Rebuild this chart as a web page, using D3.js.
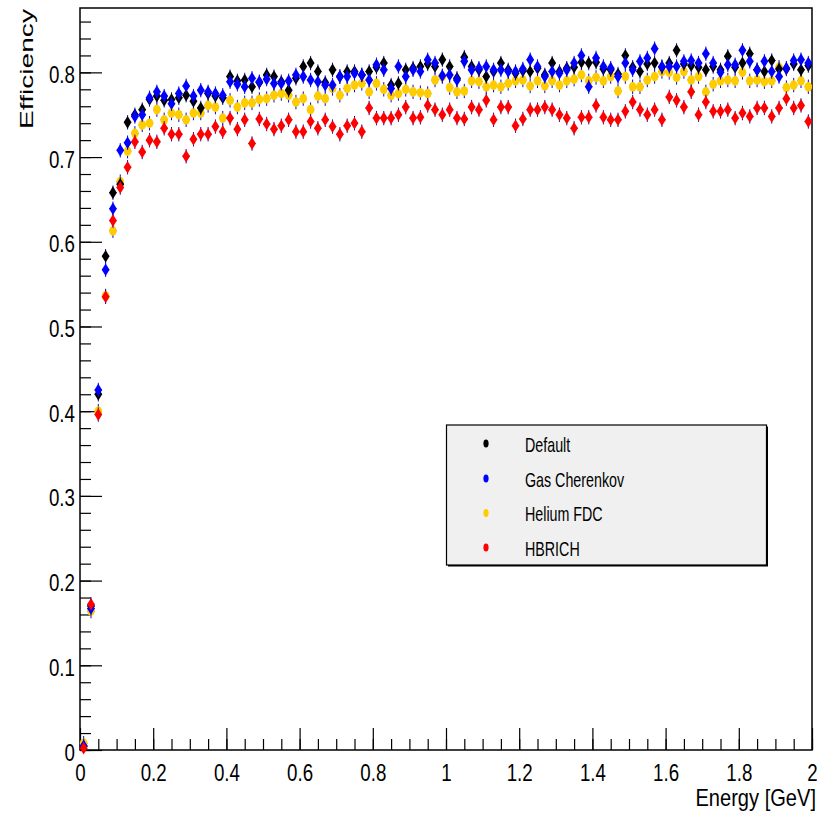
<!DOCTYPE html>
<html>
<head>
<meta charset="utf-8">
<script src="https://cdn.jsdelivr.net/npm/d3@7"></script>
<style>
  body { margin: 0; background: #fff; }
  svg { display: block; background: #fff; }
</style>
</head>
<body>
<svg id="effSVG" width="826" height="819"></svg>
<script>
// binning dell'istogramma
const nBins = 100;
const energyRange = [0, 2];
const effRange = [0, 0.876];

const xMajorTicks = [0, 0.2, 0.4, 0.6, 0.8, 1, 1.2, 1.4, 1.6, 1.8, 2];
const yMajorTicks = [0, 0.1, 0.2, 0.3, 0.4, 0.5, 0.6, 0.7, 0.8];

const seriesNames = ["Default", "Gas Cherenkov", "Helium FDC", "HBRICH"];
const seriesColors = ["#000000", "#0000ff", "#ffcc00", "#ff0000"];
const seriesMarkers = ["diamond", "diamond", "circle", "diamond"];

const effDefault = [
  0.004, 0.170, 0.420, 0.583, 0.658, 0.668, 0.741, 0.750, 0.756, 0.768,
  0.772, 0.767, 0.768, 0.770, 0.773, 0.766, 0.758, 0.775, 0.772, 0.770,
  0.795, 0.790, 0.791, 0.783, 0.788, 0.797, 0.795, 0.789, 0.779, 0.793,
  0.807, 0.811, 0.801, 0.788, 0.803, 0.795, 0.801, 0.801, 0.797, 0.801,
  0.806, 0.811, 0.785, 0.787, 0.803, 0.805, 0.807, 0.810, 0.807, 0.815,
  0.807, 0.793, 0.818, 0.807, 0.803, 0.795, 0.801, 0.811, 0.803, 0.799,
  0.802, 0.801, 0.805, 0.797, 0.811, 0.801, 0.805, 0.806, 0.812, 0.811,
  0.812, 0.804, 0.803, 0.798, 0.820, 0.806, 0.801, 0.810, 0.811, 0.806,
  0.811, 0.826, 0.810, 0.808, 0.806, 0.803, 0.807, 0.803, 0.819, 0.806,
  0.811, 0.822, 0.803, 0.801, 0.814, 0.804, 0.804, 0.810, 0.803, 0.808
];

const effGas = [
  0.005, 0.167, 0.425, 0.567, 0.639, 0.708, 0.717, 0.748, 0.750, 0.770,
  0.777, 0.772, 0.763, 0.775, 0.784, 0.772, 0.779, 0.777, 0.775, 0.773,
  0.789, 0.786, 0.783, 0.793, 0.789, 0.792, 0.787, 0.787, 0.790, 0.797,
  0.795, 0.791, 0.789, 0.785, 0.785, 0.795, 0.795, 0.799, 0.797, 0.791,
  0.809, 0.803, 0.781, 0.807, 0.795, 0.803, 0.801, 0.815, 0.811, 0.796,
  0.797, 0.791, 0.813, 0.803, 0.805, 0.807, 0.803, 0.803, 0.801, 0.801,
  0.804, 0.815, 0.807, 0.795, 0.801, 0.799, 0.803, 0.811, 0.820, 0.783,
  0.817, 0.807, 0.805, 0.795, 0.811, 0.803, 0.813, 0.817, 0.828, 0.807,
  0.807, 0.807, 0.813, 0.814, 0.811, 0.822, 0.811, 0.800, 0.809, 0.809,
  0.826, 0.813, 0.803, 0.813, 0.801, 0.795, 0.805, 0.814, 0.815, 0.811
];

const effHelium = [
  0.008, 0.164, 0.400, 0.536, 0.613, 0.671, 0.707, 0.728, 0.738, 0.740,
  0.756, 0.744, 0.752, 0.750, 0.744, 0.752, 0.752, 0.761, 0.759, 0.746,
  0.767, 0.759, 0.764, 0.764, 0.768, 0.769, 0.773, 0.775, 0.773, 0.765,
  0.769, 0.756, 0.772, 0.769, 0.781, 0.773, 0.781, 0.785, 0.787, 0.777,
  0.787, 0.780, 0.773, 0.775, 0.780, 0.777, 0.776, 0.775, 0.791, 0.795,
  0.782, 0.777, 0.778, 0.790, 0.789, 0.783, 0.785, 0.783, 0.787, 0.790,
  0.791, 0.784, 0.790, 0.784, 0.790, 0.785, 0.790, 0.792, 0.797, 0.790,
  0.794, 0.790, 0.795, 0.778, 0.795, 0.783, 0.783, 0.791, 0.795, 0.801,
  0.800, 0.794, 0.801, 0.791, 0.795, 0.777, 0.786, 0.790, 0.791, 0.790,
  0.800, 0.790, 0.791, 0.789, 0.790, 0.806, 0.782, 0.785, 0.790, 0.783
];

const effHBRICH = [
  0.002, 0.172, 0.396, 0.535, 0.625, 0.664, 0.688, 0.718, 0.706, 0.720,
  0.718, 0.734, 0.727, 0.727, 0.701, 0.721, 0.727, 0.727, 0.736, 0.730,
  0.746, 0.733, 0.744, 0.716, 0.745, 0.739, 0.733, 0.737, 0.744, 0.730,
  0.730, 0.742, 0.734, 0.744, 0.736, 0.727, 0.737, 0.740, 0.730, 0.758,
  0.746, 0.746, 0.746, 0.750, 0.759, 0.746, 0.747, 0.761, 0.756, 0.750,
  0.756, 0.746, 0.745, 0.759, 0.756, 0.767, 0.744, 0.759, 0.759, 0.737,
  0.745, 0.756, 0.756, 0.759, 0.756, 0.750, 0.746, 0.734, 0.747, 0.747,
  0.761, 0.747, 0.744, 0.744, 0.754, 0.765, 0.756, 0.750, 0.756, 0.744,
  0.771, 0.767, 0.759, 0.777, 0.750, 0.765, 0.754, 0.754, 0.756, 0.746,
  0.752, 0.748, 0.758, 0.758, 0.748, 0.758, 0.769, 0.758, 0.761, 0.742
];

// errore statistico (circa costante)
const effError = 0.0085;

const FONT = '"Liberation Sans", Arial, Helvetica, sans-serif';
const frame = { left: 80, right: 812, top: 8, bottom: 750 };

const svg = d3.select("#effSVG");

const x = d3.scaleLinear().domain(energyRange).range([frame.left, frame.right]);
const y = d3.scaleLinear().domain(effRange).range([frame.bottom, frame.top]);

const binWidth = (energyRange[1] - energyRange[0]) / nBins;
const binCenters = d3.range(nBins).map(i => energyRange[0] + binWidth * (i + 0.5));

function fmtTick(d) {
  return String(+d.toFixed(1));
}

/*
* Disegna gli assi con tacche principali e secondarie (verso l'interno, stile ROOT)
*/
function drawAxes() {
  const xMinor = d3.range(0, 2.0001, 0.05);
  const yMinor = d3.range(0, 0.8601, 0.02);

  // tacche secondarie
  svg.append("g")
    .attr("transform", `translate(0,${frame.bottom})`)
    .call(d3.axisBottom(x).tickValues(xMinor).tickSize(-11).tickSizeOuter(0).tickFormat(""))
    .call(g => g.select(".domain").remove());

  svg.append("g")
    .attr("transform", `translate(${frame.left},0)`)
    .call(d3.axisLeft(y).tickValues(yMinor).tickSize(-11).tickSizeOuter(0).tickFormat(""))
    .call(g => g.select(".domain").remove());

  // tacche principali con etichette
  const gx = svg.append("g")
    .attr("transform", `translate(0,${frame.bottom})`)
    .call(d3.axisBottom(x).tickValues(xMajorTicks).tickSize(-22).tickSizeOuter(0)
      .tickPadding(14).tickFormat(fmtTick));
  gx.select(".domain").remove();
  gx.selectAll("text")
    .attr("font-family", FONT)
    .attr("font-size", 24)
    .attr("fill", "#000")
    .attr("transform", "scale(0.78,1)");

  const gy = svg.append("g")
    .attr("transform", `translate(${frame.left},0)`)
    .call(d3.axisLeft(y).tickValues(yMajorTicks).tickSize(-22).tickSizeOuter(0)
      .tickPadding(6.5).tickFormat(fmtTick));
  gy.select(".domain").remove();
  gy.selectAll("text")
    .attr("font-family", FONT)
    .attr("font-size", 24)
    .attr("fill", "#000")
    .attr("dy", "0.42em")
    .attr("transform", "scale(0.78,1)");

  svg.selectAll(".tick line")
    .attr("stroke", "#000")
    .attr("stroke-width", 1.2);

  // cornice
  svg.append("rect")
    .attr("x", frame.left)
    .attr("y", frame.top)
    .attr("width", frame.right - frame.left)
    .attr("height", frame.bottom - frame.top)
    .attr("fill", "none")
    .attr("stroke", "#000")
    .attr("stroke-width", 1.5);

  // titoli degli assi
  svg.append("text")
    .attr("transform", "translate(816,806) scale(0.82,1)")
    .attr("text-anchor", "end")
    .attr("font-family", FONT)
    .attr("font-size", 24.5)
    .text("Energy [GeV]");

  svg.append("text")
    .attr("transform", "translate(33,9) rotate(-90) scale(1.28,0.86)")
    .attr("text-anchor", "end")
    .attr("font-family", FONT)
    .attr("font-size", 22)
    .text("Efficiency");
}

/*
* Disegna una serie: barre d'errore e marcatori
*/
function drawSeries(values, color, marker) {
  const pts = values.map((v, i) => ({ e: binCenters[i], v: v }));
  const g = svg.append("g");

  g.selectAll("line.ey")
    .data(pts)
    .enter()
    .append("line")
    .attr("class", "ey")
    .attr("x1", d => x(d.e))
    .attr("x2", d => x(d.e))
    .attr("y1", d => y(Math.max(0, d.v - effError)))
    .attr("y2", d => y(d.v + effError))
    .style("stroke", "#0a0ac8")
    .style("stroke-width", 1);

  g.selectAll("line.ex")
    .data(pts)
    .enter()
    .append("line")
    .attr("class", "ex")
    .attr("x1", d => x(d.e - binWidth / 2))
    .attr("x2", d => x(d.e + binWidth / 2))
    .attr("y1", d => y(d.v))
    .attr("y2", d => y(d.v))
    .style("stroke", "#0a0ac8")
    .style("stroke-width", 1);

  if (marker === "diamond") {
    g.selectAll("path.m")
      .data(pts)
      .enter()
      .append("path")
      .attr("class", "m")
      .attr("d", "M0,-6.3L3.9,0L0,6.3L-3.9,0Z")
      .attr("transform", d => `translate(${x(d.e)},${y(d.v)})`)
      .style("fill", color);
  } else {
    g.selectAll("ellipse.m")
      .data(pts)
      .enter()
      .append("ellipse")
      .attr("class", "m")
      .attr("cx", d => x(d.e))
      .attr("cy", d => y(d.v))
      .attr("rx", 3.8)
      .attr("ry", 4.8)
      .style("fill", color);
  }
}

/*
* Legenda in basso a destra
*/
function drawLegend() {
  const lx = 446.5, ly = 425, lw = 320, lh = 140;
  const rowY = [443.5, 478.5, 513, 547.5];

  svg.append("rect")
    .attr("x", lx + 1.5).attr("y", ly + 1.5)
    .attr("width", lw).attr("height", lh)
    .attr("fill", "#000");
  svg.append("rect")
    .attr("x", lx).attr("y", ly)
    .attr("width", lw).attr("height", lh)
    .attr("fill", "#f0f0f0")
    .attr("stroke", "#000")
    .attr("stroke-width", 1.2);

  seriesNames.forEach((name, i) => {
    svg.append("ellipse")
      .attr("cx", 486).attr("cy", rowY[i])
      .attr("rx", 2.6).attr("ry", 4)
      .style("fill", seriesColors[i]);
    svg.append("text")
      .attr("transform", `translate(525,${rowY[i] + 8}) scale(0.68,1)`)
      .attr("font-family", FONT)
      .attr("font-size", 21)
      .text(name);
  });
}

const allSeries = [effDefault, effGas, effHelium, effHBRICH];

drawAxes();
// ordine di disegno: Helium sotto, HBRICH sopra
[2, 0, 1, 3].forEach(k => drawSeries(allSeries[k], seriesColors[k], seriesMarkers[k]));
drawLegend();
</script>
</body>
</html>
